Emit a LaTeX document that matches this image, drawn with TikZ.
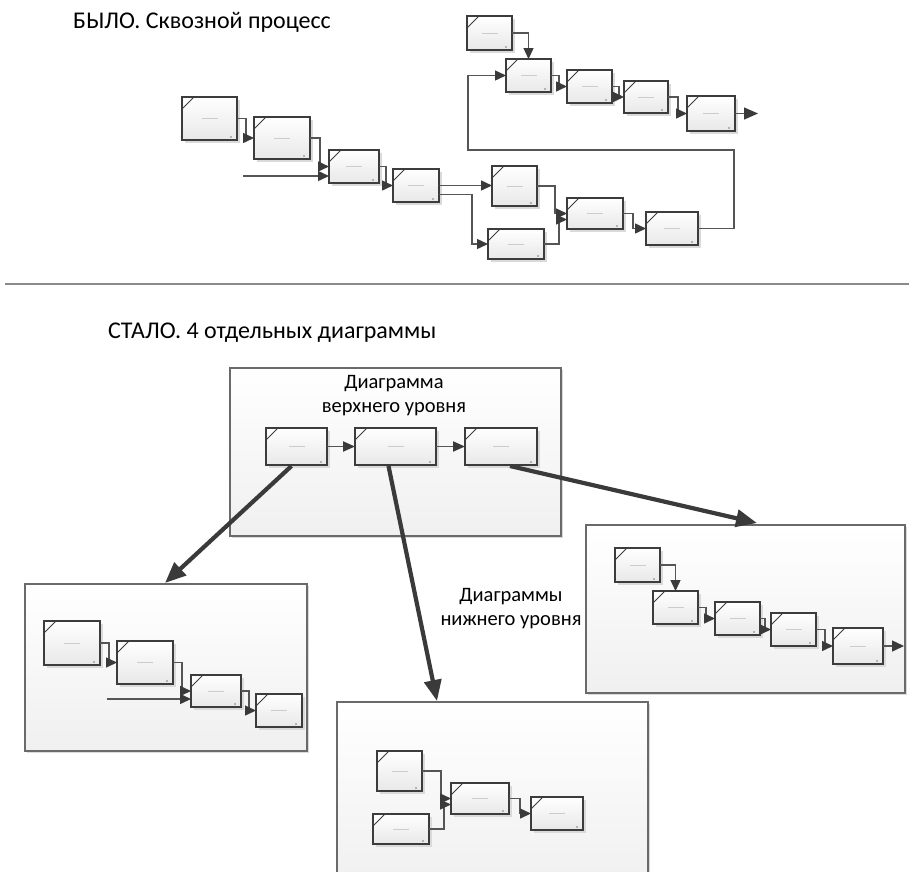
\documentclass[tikz,border=0pt]{standalone}
\usepackage{fontspec}
\setmainfont{Carlito}
\usetikzlibrary{arrows.meta,calc,shadows}

\definecolor{boxline}{HTML}{3C3C3C}
\definecolor{connline}{HTML}{555555}
\definecolor{arrowdark}{HTML}{3A3A3A}
\definecolor{frameline}{HTML}{6A6A6A}
\definecolor{shadowgray}{HTML}{DADADA}
\definecolor{sepline}{HTML}{8A8A8A}

\tikzset{
  pbox/.style={draw=boxline, line width=1.1pt, top color=white, bottom color=gray!18,
    anchor=north west, inner sep=0pt, outer sep=0pt,
    drop shadow={shadow xshift=3pt, shadow yshift=-3pt, fill=shadowgray, opacity=1},
    path picture={
      \draw[boxline, line width=0.8pt]
        ($(path picture bounding box.north west)+(0pt,-12pt)$) --
        ($(path picture bounding box.north west)+(12pt,0pt)$);
      \draw[gray!40, line width=0.5pt]
        ($(path picture bounding box.center)+(-8pt,0pt)$) --
        ($(path picture bounding box.center)+(8pt,0pt)$);
      \fill[black] ($(path picture bounding box.south east)+(-6pt,3pt)$) circle (0.7pt);
    }},
  frame/.style={draw=frameline, line width=1.3pt, top color=white, bottom color=gray!12,
    anchor=north west, inner sep=0pt, outer sep=0pt,
    drop shadow={shadow xshift=2pt, shadow yshift=-2pt, fill=shadowgray, opacity=1}},
  conn/.style={draw=connline, line width=1.4pt, -{Triangle[length=11pt,width=10pt,color=arrowdark]}},
  uconn/.style={draw=connline, line width=1.9pt, -{Triangle[length=12pt,width=10pt,color=arrowdark]}},
  bigarrow/.style={draw=arrowdark, line width=4.2pt, -{Triangle[length=21pt,width=17pt]}},
  sep/.style={draw=sepline, line width=1.3pt},
  title/.style={anchor=base west, font=\fontsize{24}{28}\selectfont, text=black, inner sep=0pt},
  ctitle/.style={anchor=base, font=\fontsize{20.5}{24}\selectfont, text=black, inner sep=0pt},
}

\newcommand{\pb}[5]{\node[pbox, minimum width=#4pt, minimum height=#5pt] (#1) at (#2,#3) {};}
\newcommand{\elb}[3]{\draw[conn] (#1.east) -| ($(#2.west)+(-#3pt,0pt)$) -- (#2.west);}

\begin{document}
\begin{tikzpicture}[x=1pt,y=-1pt]
\useasboundingbox (0,0) rectangle (909,871);
\fill[white] (0,0) rectangle (909,871);

% ---------- titles and separator ----------
\node[title] (t1) at (73,28) {БЫЛО. Сквозной процесс};
\coordinate (s1) at (5,284);
\coordinate (s2) at (909,284);
\draw[sep] (s1) -- (s2);
\node[title] (t2) at (108,338) {СТАЛО. 4 отдельных диаграммы};

% ---------- BEFORE: end-to-end process ----------
\pb{B1}{182}{97}{55}{43}
\pb{B2}{254}{117}{56}{42}
\pb{B3}{329}{150}{50}{33}
\pb{B4}{393}{169}{46}{33}
\pb{B5}{492}{166}{45}{40}
\pb{B6}{488}{229}{56}{30}
\pb{B7}{567}{198}{56}{31}
\pb{B8}{646}{212}{52}{33}
\pb{T0}{467}{16}{45}{34}
\pb{T1}{506}{59}{45}{33}
\pb{T2}{567}{70}{45}{33}
\pb{T3}{624}{81}{44}{32}
\pb{T4}{687}{96}{48}{35}

\elb{B1}{B2}{8}
\elb{B2}{B3}{9}
\coordinate (inB3) at (243,176);
\draw[conn] (inB3) -- (inB3 -| B3.west);
\elb{B3}{B4}{7}
\draw[conn] (B4.east) -- (B5.west |- B4.east);
\draw[conn] ([yshift=-9pt]B4.east) -| ($(B6.west)+(-16pt,0pt)$) -- (B6.west);
\elb{B5}{B7}{12}
\draw[conn] (B6.east) -| ($(B7.west)+(-8pt,-6pt)$) -- ([yshift=-6pt]B7.west);
\elb{B7}{B8}{13}
\coordinate (lr) at (734,150);
\coordinate (ll) at (468,150);
\draw[conn] (B8.east) -| (lr) -- (ll) |- (T1.west);
\draw[conn] (T0.east) -| (T1.north);
\elb{T1}{T2}{8}
\elb{T2}{T3}{5}
\elb{T3}{T4}{9}
\coordinate (outT) at (758,113.5);
\draw[conn, -{Triangle[length=14pt,width=12pt,color=arrowdark]}] (T4.east) -- (outT);

% ---------- AFTER: four diagrams ----------
\node[frame, minimum width=331pt, minimum height=168pt] (FU) at (230,368) {};
\node[ctitle] (u1t) at (394,388) {Диаграмма};
\node[ctitle] (u2t) at (394,412) {верхнего уровня};
\pb{U1}{266}{428}{61}{37}
\pb{U2}{355}{428}{81}{37}
\pb{U3}{465}{428}{72}{37}
\draw[uconn] (U1.east) -- (U2.west);
\draw[uconn] (U2.east) -- (U3.west);

% lower-left diagram
\node[frame, minimum width=282pt, minimum height=167pt] (FL) at (25,584) {};
\pb{L1}{44}{621}{56}{44}
\pb{L2}{117}{641}{56}{43}
\pb{L3}{191}{675}{50}{32}
\pb{L4}{256}{694}{46}{33}
\elb{L1}{L2}{8}
\elb{L2}{L3}{9}
\coordinate (inL3) at (107,699);
\draw[conn] (inL3) -- (inL3 -| L3.west);
\elb{L3}{L4}{7}

% right diagram
\node[frame, minimum width=319pt, minimum height=168pt] (FR) at (586,525) {};
\pb{R0}{615}{548}{45}{34}
\pb{R1}{653}{591}{45}{33}
\pb{R2}{715}{602}{45}{33}
\pb{R3}{771}{613}{45}{33}
\pb{R4}{833}{628}{50}{36}
\draw[conn] (R0.east) -| (R1.north);
\elb{R1}{R2}{9}
\elb{R2}{R3}{6}
\elb{R3}{R4}{8}
\coordinate (outR) at (904,646);
\draw[conn, -{Triangle[length=12pt,width=11pt,color=arrowdark]}] (R4.east) -- (outR);

% bottom diagram
\node[frame, minimum width=311pt, minimum height=185pt] (FM) at (337,702) {};
\pb{M1}{377}{751}{45}{40}
\pb{M2}{373}{814}{56}{30}
\pb{M3}{451}{783}{58}{31}
\pb{M4}{531}{797}{52}{33}
\elb{M1}{M3}{10}
\draw[conn] (M2.east) -| ($(M3.west)+(-7pt,-6pt)$) -- ([yshift=-6pt]M3.west);
\elb{M3}{M4}{11}

% label of lower-level diagrams
\node[ctitle] (l1t) at (511,601) {Диаграммы};
\node[ctitle] (l2t) at (511,625) {нижнего уровня};

% big arrows
\coordinate (aL) at (165,583);
\coordinate (aM) at (437,701);
\coordinate (aR) at (757,523);
\draw[bigarrow] ([xshift=-5pt,yshift=-1pt]U1.south) -- (aL);
\draw[bigarrow] ([xshift=-7pt,yshift=-1pt]U2.south) -- (aM);
\draw[bigarrow] ([xshift=9pt,yshift=-1pt]U3.south) -- (aR);
\end{tikzpicture}
\end{document}
